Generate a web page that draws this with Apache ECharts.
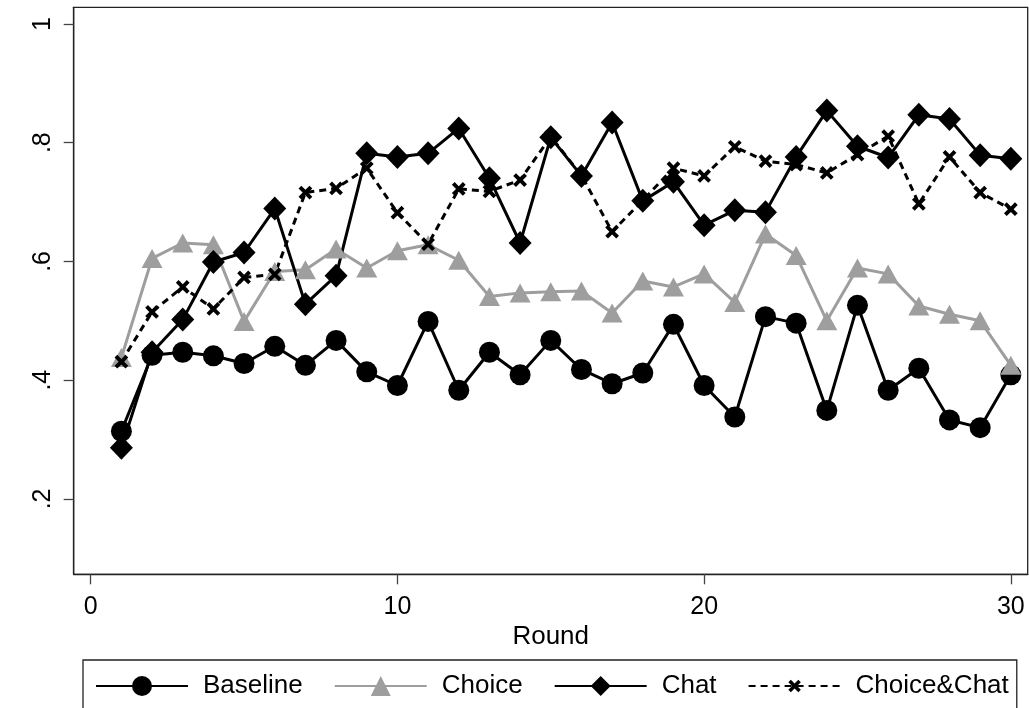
<!DOCTYPE html>
<html>
<head>
<meta charset="utf-8">
<script src="https://cdn.jsdelivr.net/npm/echarts@6/dist/echarts.min.js"></script>
<style>
  html, body { margin: 0; padding: 0; background: #fff; }
  #chart { width: 1029px; height: 708px; }
</style>
</head>
<body>
<div id="chart"></div>
<script>
// rounds 1..30
var rounds = [1,2,3,4,5,6,7,8,9,10,11,12,13,14,15,16,17,18,19,20,21,22,23,24,25,26,27,28,29,30];

var baseline = [0.314,0.442,0.447,0.441,0.428,0.457,0.425,0.467,0.414,0.391,
                0.499,0.383,0.447,0.409,0.467,0.418,0.394,0.412,0.494,0.391,
                0.338,0.507,0.496,0.349,0.526,0.383,0.420,0.333,0.320,0.409];

var choice = [0.438,0.605,0.631,0.628,0.499,0.583,0.586,0.621,0.589,0.618,
              0.628,0.602,0.541,0.547,0.549,0.550,0.513,0.567,0.557,0.579,
              0.531,0.646,0.610,0.500,0.589,0.579,0.525,0.511,0.500,0.425];

var chat = [0.286,0.447,0.502,0.599,0.615,0.689,0.528,0.576,0.782,0.776,
            0.782,0.824,0.740,0.631,0.809,0.744,0.834,0.702,0.734,0.661,
            0.686,0.683,0.776,0.854,0.794,0.775,0.847,0.840,0.779,0.773];

var choiceChat = [0.431,0.515,0.557,0.520,0.573,0.578,0.716,0.723,0.757,0.682,
                  0.629,0.722,0.718,0.737,0.810,0.745,0.650,0.703,0.757,0.744,
                  0.793,0.769,0.763,0.749,0.780,0.811,0.697,0.776,0.716,0.688];

var xTicks = [0, 10, 20, 30];
var yTicks = [0.2, 0.4, 0.6, 0.8, 1];

var FONT = '"Liberation Sans", Arial, Helvetica, sans-serif';
var GRAY = '#9e9e9e';
// x marker, padded box so the legend copy comes out smaller
var CROSS = 'path://M-3,-3L-3,-3M13,13L13,13M0,2L2,0L5,3L8,0L10,2L7,5L10,8L8,10L5,7L2,10L0,8L3,5Z';

function pairs(vals){
  var out = [];
  for (var i = 0; i < rounds.length; i++) {
    out.push([rounds[i], vals[i]]);
  }
  return out;
}

var chart = echarts.init(document.getElementById('chart'), null, {renderer: 'canvas'});

chart.setOption({
  animation: false,
  backgroundColor: '#fff',
  textStyle: { fontFamily: FONT },
  grid: {
    left: 73.7, right: 1.3, top: 7.3, bottom: 133.7,
    show: true, borderColor: '#222', borderWidth: 1.3
  },
  xAxis: {
    type: 'value', min: -0.555, max: 30.55,
    name: 'Round', nameLocation: 'middle', nameGap: 41,
    nameTextStyle: { fontSize: 26, color: '#000', fontFamily: FONT },
    axisLine: { show: true, onZero: false, lineStyle: { color: '#222', width: 1.3 } },
    axisTick: { show: true, length: 10, lineStyle: { color: '#444', width: 1.3 }, customValues: xTicks },
    axisLabel: { fontSize: 25, color: '#000', margin: 20, customValues: xTicks, fontFamily: FONT },
    splitLine: { show: false }
  },
  yAxis: {
    type: 'value', min: 0.073, max: 1.028,
    axisLine: { show: true, onZero: false, lineStyle: { color: '#222', width: 1.3 } },
    axisTick: { show: true, length: 10, lineStyle: { color: '#444', width: 1.3 }, customValues: yTicks },
    axisLabel: {
      fontSize: 25, color: '#000', margin: 18, rotate: 90, customValues: yTicks, fontFamily: FONT,
      formatter: function(v){ return v >= 1 ? '1' : String(Math.round(v * 10) / 10).replace(/^0/, ''); }
    },
    splitLine: { show: false }
  },
  legend: {
    left: 83, top: 660,
    padding: [13, 8, 13, 12],
    borderColor: '#222', borderWidth: 1.3,
    itemWidth: 92, itemHeight: 25, itemGap: 31,
    textStyle: { fontSize: 26, color: '#000', fontFamily: FONT, padding: [0, 0, 0, 10] },
    data: ['Baseline', 'Choice', 'Chat', 'Choice&Chat']
  },
  series: [
    {
      name: 'Baseline', type: 'line', data: pairs(baseline),
      symbol: 'circle', symbolSize: 21, showAllSymbol: true,
      lineStyle: { color: '#000', width: 3 }, itemStyle: { color: '#000' }
    },
    {
      name: 'Choice', type: 'line', data: pairs(choice),
      symbol: 'triangle', symbolSize: [21, 19], showAllSymbol: true,
      lineStyle: { color: GRAY, width: 3 }, itemStyle: { color: GRAY }
    },
    {
      name: 'Chat', type: 'line', data: pairs(chat),
      symbol: 'diamond', symbolSize: [23, 24], showAllSymbol: true,
      lineStyle: { color: '#000', width: 3 }, itemStyle: { color: '#000' }
    },
    {
      name: 'Choice&Chat', type: 'line', data: pairs(choiceChat),
      symbol: CROSS, symbolSize: 22, showAllSymbol: true,
      lineStyle: { color: '#000', width: 3, type: [7, 5] }, itemStyle: { color: '#000' }
    }
  ]
});
</script>
</body>
</html>
